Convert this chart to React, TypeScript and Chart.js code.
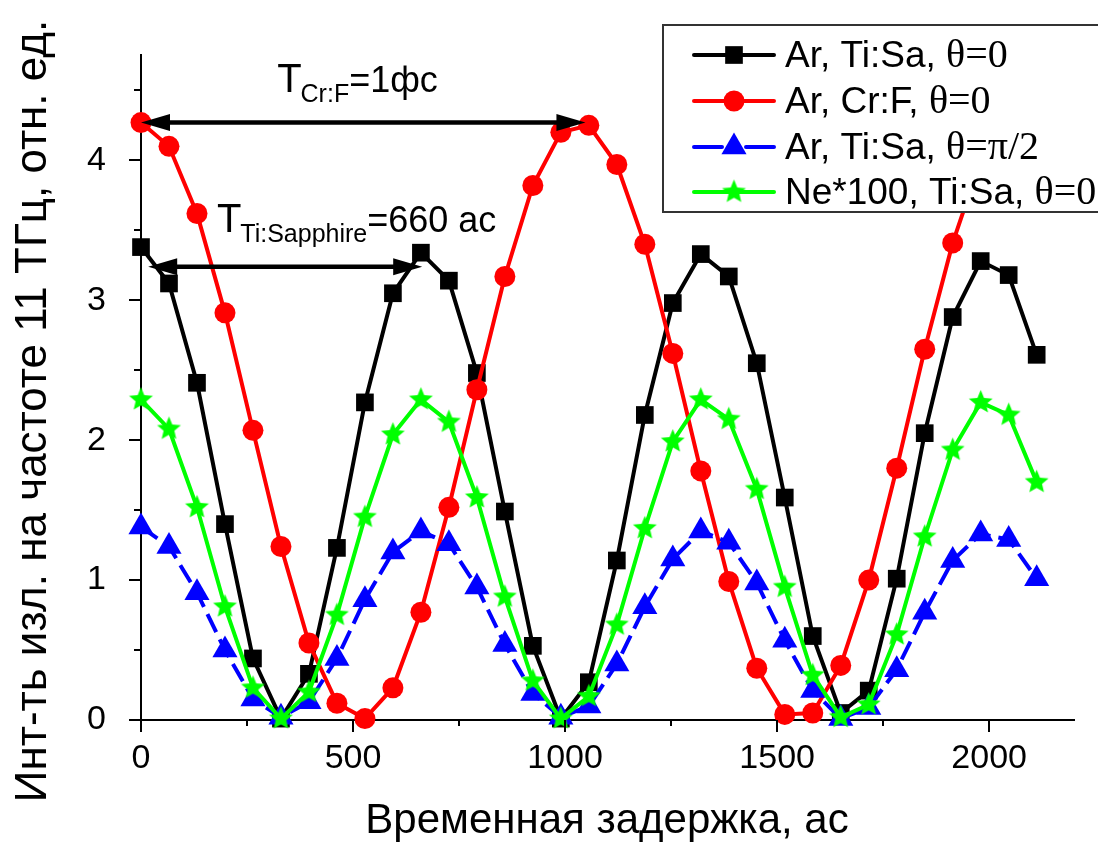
import React, { useEffect, useRef } from "react";
import { Chart, registerables } from "chart.js";
Chart.register(...registerables);

// ---- data ----
const delays = [0, 66, 132, 198, 264, 330, 396, 462, 528, 594, 660, 726, 792, 858, 924, 990, 1056, 1122, 1188, 1254, 1320, 1386, 1452, 1518, 1584, 1650, 1716, 1782, 1848, 1914, 1980, 2046, 2112];
const arTiSa0 = [3.38, 3.12, 2.41, 1.40, 0.44, 0.01, 0.33, 1.23, 2.27, 3.05, 3.34, 3.14, 2.48, 1.49, 0.53, 0.01, 0.27, 1.14, 2.18, 2.98, 3.33, 3.17, 2.55, 1.59, 0.60, 0.05, 0.21, 1.01, 2.05, 2.88, 3.28, 3.18, 2.61];
const arCrF0 = [4.27, 4.10, 3.62, 2.91, 2.07, 1.24, 0.55, 0.12, 0.01, 0.23, 0.77, 1.52, 2.36, 3.17, 3.82, 4.20, 4.25, 3.97, 3.40, 2.62, 1.78, 0.99, 0.37, 0.04, 0.05, 0.39, 1.00, 1.80, 2.65, 3.41, 4.00];
const arTiSaPi2 = [1.38, 1.24, 0.91, 0.50, 0.15, 0.02, 0.13, 0.44, 0.86, 1.20, 1.35, 1.26, 0.95, 0.54, 0.19, 0.02, 0.10, 0.40, 0.81, 1.15, 1.35, 1.27, 0.98, 0.57, 0.21, 0.01, 0.09, 0.36, 0.77, 1.14, 1.33, 1.29, 1.01];
const ne100TiSa0 = [2.29, 2.08, 1.52, 0.81, 0.23, 0.01, 0.20, 0.75, 1.45, 2.04, 2.29, 2.13, 1.59, 0.88, 0.28, 0.01, 0.17, 0.68, 1.37, 1.99, 2.29, 2.15, 1.65, 0.95, 0.32, 0.02, 0.11, 0.61, 1.31, 1.93, 2.27, 2.18, 1.70];

const xMajorTicks = [0, 500, 1000, 1500, 2000];
const xMinorTicks = [250, 750, 1250, 1750];
const yMajorTicks = [0, 1, 2, 3, 4];
const yMinorTicks = [0.5, 1.5, 2.5, 3.5, 4.5];

const legendMain = ["Ar, Ti:Sa, ", "Ar, Cr:F, ", "Ar, Ti:Sa, ", "Ne*100, Ti:Sa, "];
const legendTheta = ["\u03b8=0", "\u03b8=0", "\u03b8=\u03c0/2", "\u03b8=0"];

const xTitle = "Временная задержка, ас";
const yTitle = "Инт-ть изл. на частоте 11 ТГц, отн. ед.";

// annotations in data coordinates
const crfArrow = { y: 4.27, x1: 0, x2: 1048 };
const tisaArrow = { y: 3.24, x1: 17, x2: 663 };
const crfLabel = { x: 321, y: 4.49, main: "T", sub: "Cr:F", rest: "=1фс" };
const tisaLabel = { x: 179, y: 3.49, main: "T", sub: "Ti:Sapphire", rest: "=660 ас" };

const SANS = "'Liberation Sans', Arial, sans-serif";
const SERIF = "'Liberation Serif', 'Times New Roman', serif";

const BLACK = "#000000";
const RED = "#ff0000";
const BLUE = "#0000ff";
const GREEN = "#00ff00";

function makeStar(r: number, color: string) {
  const size = Math.ceil(r * 2 + 2);
  const c = document.createElement("canvas");
  c.width = size;
  c.height = size;
  const g = c.getContext("2d")!;
  g.beginPath();
  for (let i = 0; i < 10; i++) {
    const rr = i % 2 === 0 ? r : r * 0.45;
    const a = -Math.PI / 2 + (i * Math.PI) / 5;
    g.lineTo(size / 2 + rr * Math.cos(a), size / 2 + rr * Math.sin(a));
  }
  g.closePath();
  g.fillStyle = color;
  g.fill();
  return c;
}

function drawMarker(ctx: CanvasRenderingContext2D, kind: string, x: number, y: number, color: string, star?: HTMLCanvasElement) {
  ctx.save();
  ctx.fillStyle = color;
  ctx.beginPath();
  if (kind === "rect") {
    const s = 12.5 * Math.SQRT1_2;
    ctx.rect(x - s, y - s, 2 * s, 2 * s);
    ctx.fill();
  } else if (kind === "circle") {
    ctx.arc(x, y, 10.5, 0, Math.PI * 2);
    ctx.fill();
  } else if (kind === "triangle") {
    const r = 14.5;
    for (let i = 0; i < 3; i++) {
      const a = (i * 2 * Math.PI) / 3;
      ctx.lineTo(x + Math.sin(a) * r, y - Math.cos(a) * r);
    }
    ctx.closePath();
    ctx.fill();
  } else if (kind === "star" && star) {
    ctx.drawImage(star, x - star.width / 2, y - star.height / 2);
  }
  ctx.restore();
}

function drawArrow(ctx: CanvasRenderingContext2D, x1: number, x2: number, y: number) {
  const head = 29;
  const half = 8.5;
  ctx.save();
  ctx.strokeStyle = BLACK;
  ctx.fillStyle = BLACK;
  ctx.lineWidth = 4.5;
  ctx.beginPath();
  ctx.moveTo(x1 + head - 2, y);
  ctx.lineTo(x2 - head + 2, y);
  ctx.stroke();
  ctx.beginPath();
  ctx.moveTo(x1, y);
  ctx.lineTo(x1 + head, y - half);
  ctx.lineTo(x1 + head, y + half);
  ctx.closePath();
  ctx.fill();
  ctx.beginPath();
  ctx.moveTo(x2, y);
  ctx.lineTo(x2 - head, y - half);
  ctx.lineTo(x2 - head, y + half);
  ctx.closePath();
  ctx.fill();
  ctx.restore();
}

function drawSubLabel(ctx: CanvasRenderingContext2D, x: number, y: number, main: string, sub: string, rest: string) {
  ctx.save();
  ctx.fillStyle = BLACK;
  ctx.textAlign = "left";
  ctx.textBaseline = "alphabetic";
  ctx.font = `40px ${SANS}`;
  ctx.fillText(main, x, y);
  let cx = x + ctx.measureText(main).width - 1;
  ctx.font = `25px ${SANS}`;
  ctx.fillText(sub, cx, y + 10);
  cx += ctx.measureText(sub).width;
  ctx.font = `36px ${SANS}`;
  ctx.fillText(rest, cx, y);
  ctx.restore();
}

export default function App() {
  const ref = useRef<HTMLCanvasElement | null>(null);

  useEffect(() => {
    document.body.style.margin = "0";
    const canvas = ref.current!;
    const star = makeStar(12.5, GREEN);

    const overlay = {
      id: "overlay",
      afterDatasetsDraw(chart: any) {
        const ctx: CanvasRenderingContext2D = chart.ctx;
        const xs = chart.scales.x;
        const ys = chart.scales.y;
        drawArrow(ctx, xs.getPixelForValue(crfArrow.x1), xs.getPixelForValue(crfArrow.x2), ys.getPixelForValue(crfArrow.y));
        drawArrow(ctx, xs.getPixelForValue(tisaArrow.x1), xs.getPixelForValue(tisaArrow.x2), ys.getPixelForValue(tisaArrow.y));
        drawSubLabel(ctx, xs.getPixelForValue(crfLabel.x), ys.getPixelForValue(crfLabel.y), crfLabel.main, crfLabel.sub, crfLabel.rest);
        drawSubLabel(ctx, xs.getPixelForValue(tisaLabel.x), ys.getPixelForValue(tisaLabel.y), tisaLabel.main, tisaLabel.sub, tisaLabel.rest);
      },
      afterDraw(chart: any) {
        const ctx: CanvasRenderingContext2D = chart.ctx;
        const xs = chart.scales.x;
        const ys = chart.scales.y;
        const area = chart.chartArea;
        ctx.save();
        ctx.strokeStyle = BLACK;
        ctx.lineWidth = 2;
        // tick marks
        ctx.beginPath();
        for (const v of xMajorTicks) {
          const px = Math.round(xs.getPixelForValue(v));
          ctx.moveTo(px, area.bottom);
          ctx.lineTo(px, area.bottom + 12);
        }
        for (const v of xMinorTicks) {
          const px = Math.round(xs.getPixelForValue(v));
          ctx.moveTo(px, area.bottom);
          ctx.lineTo(px, area.bottom + 6);
        }
        for (const v of yMajorTicks) {
          const py = Math.round(ys.getPixelForValue(v));
          ctx.moveTo(area.left, py);
          ctx.lineTo(area.left - 12, py);
        }
        for (const v of yMinorTicks) {
          const py = Math.round(ys.getPixelForValue(v));
          ctx.moveTo(area.left, py);
          ctx.lineTo(area.left - 7, py);
        }
        ctx.stroke();

        // axis titles
        ctx.fillStyle = BLACK;
        ctx.textAlign = "center";
        ctx.textBaseline = "alphabetic";
        ctx.font = `42px ${SANS}`;
        ctx.fillText(xTitle, 607, 833);
        ctx.save();
        ctx.translate(46, 411);
        ctx.rotate(-Math.PI / 2);
        ctx.font = `44px ${SANS}`;
        ctx.fillText(yTitle, 0, 0);
        ctx.restore();

        // legend
        const bx = 663, by = 25, bw = 440, bh = 187;
        ctx.fillStyle = "#ffffff";
        ctx.fillRect(bx, by, bw, bh);
        ctx.strokeStyle = "#333333";
        ctx.lineWidth = 2;
        ctx.strokeRect(bx, by, bw, bh);
        const rows = [55, 101, 147, 192];
        const colors = [BLACK, RED, BLUE, GREEN];
        const kinds = ["rect", "circle", "triangle", "star"];
        for (let i = 0; i < 4; i++) {
          const y = rows[i];
          ctx.strokeStyle = colors[i];
          ctx.lineWidth = 4;
          ctx.lineCap = "round";
          ctx.beginPath();
          if (i === 2) {
            ctx.moveTo(694, y);
            ctx.lineTo(722, y);
            ctx.moveTo(746, y);
            ctx.lineTo(774, y);
          } else {
            ctx.moveTo(694, y);
            ctx.lineTo(774, y);
          }
          ctx.stroke();
          drawMarker(ctx, kinds[i], 734, y, colors[i], star);
          ctx.fillStyle = BLACK;
          ctx.textAlign = "left";
          ctx.textBaseline = "alphabetic";
          ctx.font = `37px ${SANS}`;
          ctx.fillText(legendMain[i], 785, y + 12);
          const w = ctx.measureText(legendMain[i]).width;
          ctx.font = `40px ${SERIF}`;
          ctx.fillText(legendTheta[i], 785 + w, y + 12);
        }
        ctx.restore();
      },
    };

    const mk = (vals: number[]) => vals.map((v, i) => ({ x: delays[i], y: v }));

    const chart = new Chart(canvas, {
      type: "line",
      data: {
        datasets: [
          {
            label: "Ar, Ti:Sa, θ=0",
            data: mk(arTiSa0),
            borderColor: BLACK,
            backgroundColor: BLACK,
            borderWidth: 4,
            pointStyle: "rect",
            pointRadius: 12.5,
            pointBorderWidth: 0,
            tension: 0,
            clip: false as any,
            order: 3,
          },
          {
            label: "Ar, Cr:F, θ=0",
            data: mk(arCrF0),
            borderColor: RED,
            backgroundColor: RED,
            borderWidth: 4,
            pointStyle: "circle",
            pointRadius: 10.5,
            pointBorderWidth: 0,
            tension: 0,
            clip: false as any,
            order: 2,
          },
          {
            label: "Ar, Ti:Sa, θ=π/2",
            data: mk(arTiSaPi2),
            borderColor: BLUE,
            backgroundColor: BLUE,
            borderWidth: 4,
            borderDash: [20, 8],
            pointStyle: "triangle",
            pointRadius: 14.5,
            pointBorderWidth: 0,
            tension: 0,
            clip: false as any,
            order: 1,
          },
          {
            label: "Ne*100, Ti:Sa, θ=0",
            data: mk(ne100TiSa0),
            borderColor: GREEN,
            backgroundColor: GREEN,
            borderWidth: 4,
            pointStyle: star as any,
            pointRadius: 12,
            pointBorderWidth: 0,
            tension: 0,
            clip: false as any,
            order: 0,
          },
        ],
      },
      options: {
        animation: false,
        responsive: false,
        devicePixelRatio: 1,
        layout: { padding: { left: 0, top: 43, right: 24, bottom: 0 } },
        plugins: { legend: { display: false }, tooltip: { enabled: false } },
        scales: {
          x: {
            type: "linear",
            min: 0,
            max: 2200,
            grid: { display: false, drawTicks: false },
            border: { display: true, color: BLACK, width: 2 },
            ticks: {
              maxRotation: 0,
              autoSkip: false,
              padding: 18,
              color: BLACK,
              font: { family: SANS, size: 34 },
              callback: (v: any) => String(v),
            },
            afterBuildTicks(scale: any) {
              scale.ticks = xMajorTicks.map((v) => ({ value: v }));
            },
            afterFit(scale: any) {
              scale.height = 123;
            },
          },
          y: {
            type: "linear",
            min: 0,
            max: 4.75,
            grid: { display: false, drawTicks: false },
            border: { display: true, color: BLACK, width: 2 },
            ticks: {
              padding: 35,
              color: BLACK,
              font: { family: SANS, size: 34 },
              callback: (v: any) => String(v),
            },
            afterBuildTicks(scale: any) {
              scale.ticks = yMajorTicks.map((v) => ({ value: v }));
            },
            afterFit(scale: any) {
              scale.width = 141;
            },
          },
        },
      },
      plugins: [overlay],
    } as any);

    return () => chart.destroy();
  }, []);

  return <canvas ref={ref} width={1098} height={843} style={{ display: "block" }} />;
}
